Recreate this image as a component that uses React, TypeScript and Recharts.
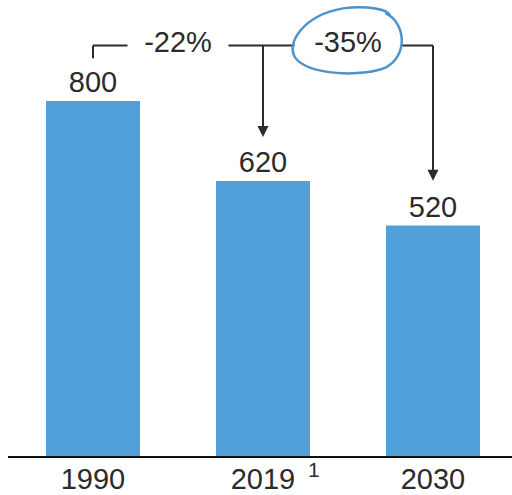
import React from 'react';
import { BarChart, Bar, XAxis, YAxis, LabelList, ReferenceLine } from 'recharts';

const years = ['1990', '2019', '2030'];
const footnotes = ['', '1', ''];
const emissions = [800, 620, 520];
const changeLabels = ['-22%', '-35%'];

// annotation levels (data units)
const bracketLevel = 925;
const stubEnd = 896;
const arrowEnds = [719, 621];

const data = years.map((year, i) => ({ year, value: emissions[i] }));

const FONT = '"Liberation Sans", Arial, sans-serif';
const BLUE = '#52a0d9';
const INK = '#2b2b2b';

const YearTick = ({ x, y, payload, index }: any) => {
  const note = footnotes[index];
  return (
    <g>
      <text x={x} y={y + 32} textAnchor="middle" fontSize={29} fill={INK} fontFamily={FONT}>
        {payload.value}
      </text>
      {note && (
        <text x={x + 45} y={y + 20} fontSize={21} fill={INK} fontFamily={FONT}>
          {note}
        </text>
      )}
    </g>
  );
};

const ChangeLabel = ({ viewBox, text, gap, circled }: any) => {
  const cx = viewBox.x + viewBox.width / 2;
  const cy = viewBox.y + viewBox.height / 2;
  return (
    <g>
      <rect x={cx - gap / 2} y={cy - 18} width={gap} height={36} fill="#fff" />
      <text x={cx} y={cy + 7} textAnchor="middle" fontSize={29} fill={INK} fontFamily={FONT}>
        {text}
      </text>
      {circled && (
        <path
          d={`M ${cx + 38} ${cy - 32}
              C ${cx + 58} ${cy - 22}, ${cx + 60} ${cy + 10}, ${cx + 38} ${cy + 22}
              C ${cx + 15} ${cy + 32}, ${cx - 40} ${cy + 30}, ${cx - 53} ${cy + 12}
              C ${cx - 62} ${cy - 2}, ${cx - 45} ${cy - 30}, ${cx - 5} ${cy - 37}
              C ${cx + 20} ${cy - 40}, ${cx + 40} ${cy - 36}, ${cx + 42} ${cy - 30}`}
          fill="none"
          stroke="#4b93cc"
          strokeWidth={2.5}
          strokeLinecap="round"
        />
      )}
    </g>
  );
};

const ArrowLine = (props: any) => {
  const { x1, y1, x2, y2 } = props;
  return (
    <g>
      <line x1={x1} y1={y1} x2={x2} y2={y2 - 9} stroke={INK} strokeWidth={2} />
      <polygon points={`${x2},${y2} ${x2 - 5.5},${y2 - 11} ${x2 + 5.5},${y2 - 11}`} fill={INK} />
    </g>
  );
};

export default function App() {
  return (
    <div
      style={{
        position: 'absolute',
        left: 0,
        top: 0,
        width: 512,
        height: 495,
        overflow: 'hidden',
        background: '#fff',
      }}
    >
      <BarChart width={518} height={495} data={data} margin={{ top: 12, right: 0, left: 8, bottom: 0 }}>
        <XAxis
          dataKey="year"
          height={38}
          axisLine={{ stroke: '#111', strokeWidth: 2 }}
          tickLine={false}
          tickSize={0}
          tickMargin={0}
          tick={<YearTick />}
          interval={0}
        />
        <YAxis hide domain={[0, 1000]} />
        <Bar dataKey="value" fill={BLUE} barSize={94} isAnimationActive={false}>
          <LabelList dataKey="value" position="top" offset={9} fontSize={29} fill={INK} fontFamily={FONT} />
        </Bar>

        {/* bracket: stub over 1990 */}
        <ReferenceLine
          ifOverflow="visible"
          segment={[{ x: years[0], y: bracketLevel }, { x: years[0], y: stubEnd }]}
          stroke={INK}
          strokeWidth={2}
        />
        <ReferenceLine
          ifOverflow="visible"
          segment={[{ x: years[0], y: bracketLevel }, { x: years[1], y: bracketLevel }]}
          stroke={INK}
          strokeWidth={2}
          label={<ChangeLabel text={changeLabels[0]} gap={101} />}
        />
        <ReferenceLine
          ifOverflow="visible"
          segment={[{ x: years[1], y: bracketLevel }, { x: years[2], y: bracketLevel }]}
          stroke={INK}
          strokeWidth={2}
          label={<ChangeLabel text={changeLabels[1]} gap={107} circled />}
        />
        <ReferenceLine
          ifOverflow="visible"
          segment={[{ x: years[1], y: bracketLevel }, { x: years[1], y: arrowEnds[0] }]}
          shape={<ArrowLine />}
        />
        <ReferenceLine
          ifOverflow="visible"
          segment={[{ x: years[2], y: bracketLevel }, { x: years[2], y: arrowEnds[1] }]}
          shape={<ArrowLine />}
        />
      </BarChart>
    </div>
  );
}
